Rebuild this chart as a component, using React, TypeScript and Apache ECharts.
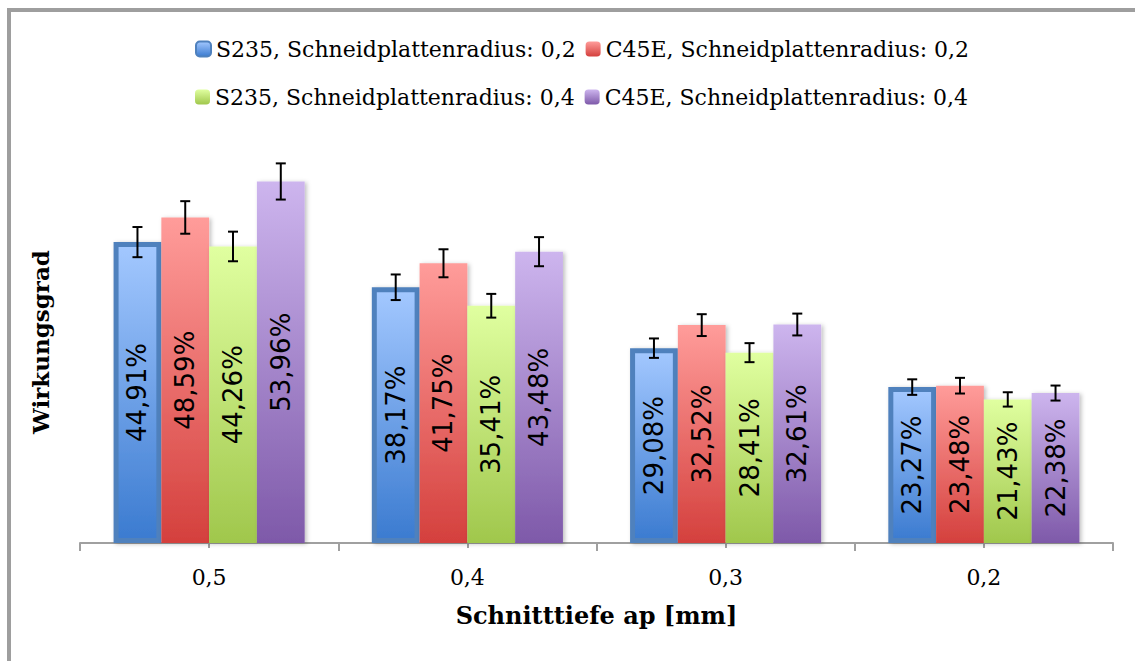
import React, { useEffect, useRef } from "react";
import * as echarts from "echarts";

const categories = ["0,5", "0,4", "0,3", "0,2"];
const seriesNames = [
  "S235, Schneidplattenradius: 0,2",
  "C45E, Schneidplattenradius: 0,2",
  "S235, Schneidplattenradius: 0,4",
  "C45E, Schneidplattenradius: 0,4",
];
const s235r02 = [44.91, 38.17, 29.08, 23.27];
const c45er02 = [48.59, 41.75, 32.52, 23.48];
const s235r04 = [44.26, 35.41, 28.41, 21.43];
const c45er04 = [53.96, 43.48, 32.61, 22.38];
const errS235r02 = [2.25, 1.91, 1.45, 1.16];
const errC45Er02 = [2.43, 2.09, 1.63, 1.17];
const errS235r04 = [2.21, 1.77, 1.42, 1.07];
const errC45Er04 = [2.7, 2.17, 1.63, 1.12];

const values = [s235r02, c45er02, s235r04, c45er04];
const errors = [errS235r02, errC45Er02, errS235r04, errC45Er04];
const gradients = [
  ["#A3C8FF", "#3B7BD0"],
  ["#FF9C9A", "#D4403D"],
  ["#E0FFA0", "#A0C74C"],
  ["#CDB5EE", "#7E59A9"],
];

const CAT_GAP = 0.26;

export default function App() {
  const ref = useRef<HTMLDivElement>(null);
  useEffect(() => {
    if (!ref.current) return;
    const chart = echarts.init(ref.current, null, { renderer: "svg" });
    const grad = (c: string[]) =>
      new echarts.graphic.LinearGradient(0, 0, 0, 1, [
        { offset: 0, color: c[0] },
        { offset: 1, color: c[1] },
      ]);
    const barSeries: any[] = values.map((v, i) => ({
      name: seriesNames[i],
      type: "bar",
      data: v,
      barGap: "0%",
      barCategoryGap: CAT_GAP * 100 + "%",
      itemStyle: {
        color: grad(gradients[i]),
        borderColor: i === 0 ? "#4F81BD" : "transparent",
        borderWidth: i === 0 ? 5 : 0,
        shadowColor: "rgba(0,0,0,0.25)",
        shadowBlur: 4,
        shadowOffsetX: 2,
        shadowOffsetY: 1,
      },
      label: {
        show: true,
        position: "inside",
        rotate: 90,
        fontFamily: "DejaVu Sans",
        fontSize: 26,
        color: "#000",
        formatter: (p: any) => p.value.toFixed(2).replace(".", ",") + "%",
      },
      z: 2,
    }));
    const errSeries: any[] = values.map((v, i) => ({
      type: "custom",
      name: "err" + i,
      data: v.map((val, k) => [k, val, errors[i][k]]),
      z: 5,
      silent: true,
      renderItem: (params: any, api: any) => {
        const k = api.value(0);
        const val = api.value(1);
        const e = api.value(2);
        const center = api.coord([k, val]);
        const catW = api.size([1, 0])[0];
        const bw = (catW * (1 - CAT_GAP)) / 4;
        const x = center[0] + (i - 1.5) * bw;
        const yt = api.coord([k, val + e])[1];
        const yb = api.coord([k, val - e])[1];
        const hw = 5;
        const style = { stroke: "#000", lineWidth: 2 };
        return {
          type: "group",
          children: [
            { type: "line", shape: { x1: x, y1: yt, x2: x, y2: yb }, style },
            { type: "line", shape: { x1: x - hw, y1: yt, x2: x + hw, y2: yt }, style },
            { type: "line", shape: { x1: x - hw, y1: yb, x2: x + hw, y2: yb }, style },
          ],
        };
      },
    }));
    const legendText = {
      fontFamily: "DejaVu Serif",
      fontSize: 22,
      color: "#000",
    };
    chart.setOption({
      animation: false,
      backgroundColor: "#fff",
      graphic: [
        {
          type: "rect",
          shape: { x: 9, y: 10, width: 1200, height: 700 },
          style: { fill: "none", stroke: "#9E9E9E", lineWidth: 4 },
          z: 100,
        },
      ],
      legend: [
        {
          data: [seriesNames[0], seriesNames[1]],
          left: 190,
          top: 33,
          itemWidth: 15,
          itemHeight: 15,
          itemGap: 10,
          textStyle: legendText,
          selectedMode: false,
        },
        {
          data: [seriesNames[2], seriesNames[3]],
          left: 190,
          top: 81,
          itemWidth: 15,
          itemHeight: 15,
          itemGap: 10,
          textStyle: legendText,
          selectedMode: false,
        },
      ],
      grid: { left: 80, right: 22, top: 141, bottom: 118 },
      xAxis: [
        {
          type: "category",
          data: categories,
          name: "Schnitttiefe ap [mm]",
          nameLocation: "middle",
          nameGap: 60,
          nameTextStyle: {
            fontFamily: "DejaVu Serif",
            fontWeight: "bold",
            fontSize: 24,
            color: "#000",
          },
          axisLine: { lineStyle: { color: "#A0A0A0", width: 2 } },
          axisTick: { show: true, length: 8, lineStyle: { color: "#A0A0A0", width: 2 } },
          axisLabel: {
            fontFamily: "DejaVu Serif",
            fontSize: 22,
            color: "#000",
            margin: 23,
          },
        },
        {
          type: "category",
          data: categories,
          position: "bottom",
          axisLine: { show: false },
          axisTick: { show: true, alignWithLabel: true, length: 5, lineStyle: { color: "#A0A0A0", width: 2 } },
          axisLabel: { show: false },
        },
      ],
      yAxis: {
        type: "value",
        min: 0,
        max: 60,
        name: "Wirkungsgrad",
        nameLocation: "middle",
        nameGap: 28,
        nameRotate: 90,
        nameTextStyle: {
          fontFamily: "DejaVu Serif",
          fontWeight: "bold",
          fontSize: 23,
          color: "#000",
        },
        axisLine: { show: false },
        axisTick: { show: false },
        axisLabel: { show: false },
        splitLine: { show: false },
      },
      series: [...barSeries, ...errSeries],
    });
    return () => chart.dispose();
  }, []);
  return (
    <div
      ref={ref}
      style={{ position: "fixed", left: 0, top: 0, width: 1135, height: 661 }}
    />
  );
}
